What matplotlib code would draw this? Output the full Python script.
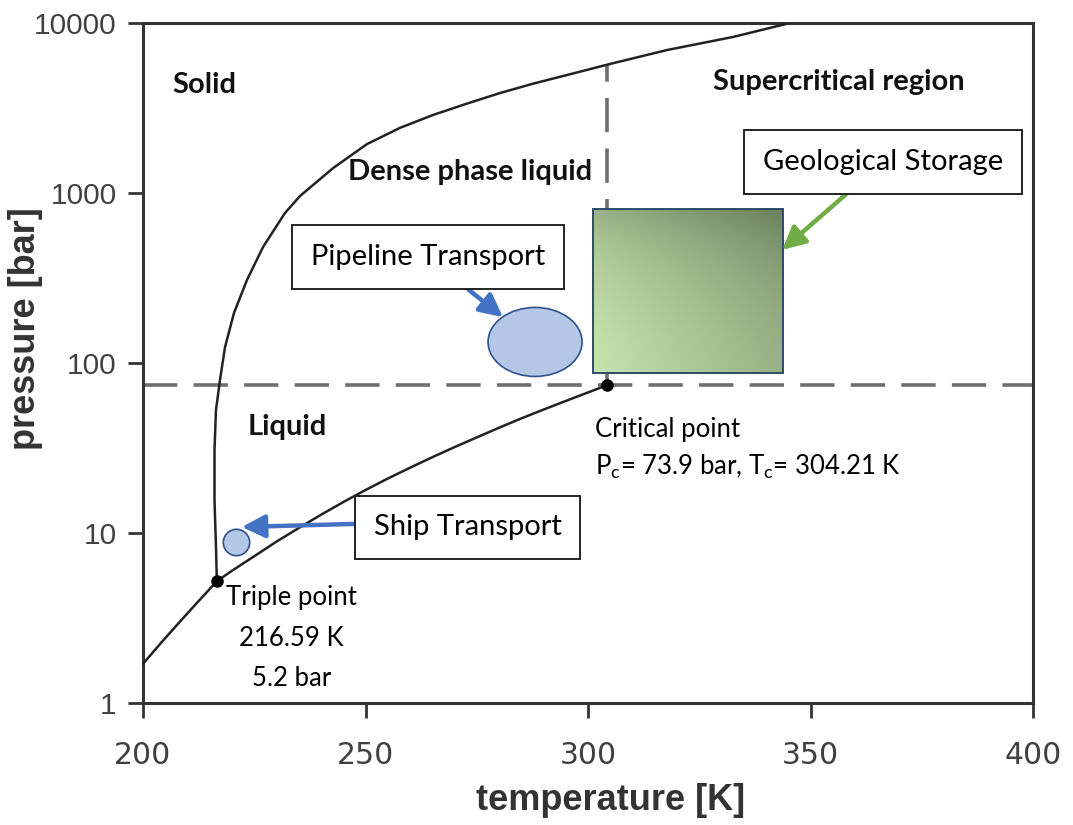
import matplotlib.pyplot as plt
import numpy as np
from matplotlib.patches import Ellipse, Rectangle
from matplotlib.transforms import ScaledTranslation

# CO2 phase diagram
melt_T = [216.59, 216.40, 216.07, 216.07, 216.40, 217.30, 218.43, 220.45, 223.37, 226.97,
          231.91, 235.28, 242.70, 250.34, 257.8, 265.17, 272.7, 280.22, 287.7, 295.28,
          304.94, 317.75, 332.58, 345.39]
melt_P = [5.2, 8.27, 15.6, 30.8, 52.9, 79.4, 124, 197, 308, 481,
          763, 960, 1400, 1940, 2420, 2877, 3350, 3873, 4400, 4943,
          5741, 6934, 8275, 10000]

vap_T = [200, 204, 208, 212, 216.59, 220, 225, 230, 235, 240, 245, 250, 255, 260,
         265, 270, 275, 280, 285, 290, 295, 300, 304.21]
vap_P = [1.7, 2.25, 2.95, 3.85, 5.2, 6.0, 7.3, 8.9, 10.7, 12.8, 15.2, 17.9, 20.9, 24.2,
         27.9, 32.0, 36.5, 41.6, 47.2, 53.2, 59.8, 67.1, 73.9]

triple = (216.59, 5.2)
critical = (304.21, 73.9)

x_ticks = [200, 250, 300, 350, 400]
y_ticks = [1, 10, 100, 1000, 10000]

regions = {"Solid": (206.5, 4300), "Liquid": (223.6, 42),
           "Dense phase liquid": (246.1, 1330), "Supercritical region": (328.1, 4500)}

pipeline_center = (288.1, 133)
ship_center = (220.9, 8.85)
storage_T = (301.1, 343.8)
storage_P = (87.3, 805)

label_font = "Lato"

fig = plt.figure(figsize=(10.73, 8.25), dpi=100)
ax = fig.add_axes([143 / 1073, 1 - 703 / 825, 890 / 1073, 680 / 825])
ax.set_yscale("log")
ax.set_xlim(200, 400)
ax.set_ylim(1, 10000)

ax.plot(melt_T, melt_P, color="#222222", lw=1.8, zorder=3)
ax.plot(vap_T, vap_P, color="#222222", lw=1.8, zorder=3)

# dashed guides at the critical point
ax.axhline(critical[1], color="#6e6e6e", lw=2.6, dashes=(9.5, 4.5), zorder=2)
top_P = np.interp(critical[0], melt_T[8:], melt_P[8:])
ax.plot([critical[0], critical[0]], [critical[1], top_P], color="#6e6e6e",
        lw=2.6, dashes=(9.5, 4.5), zorder=2)

ax.plot(*triple, "o", color="black", ms=8, zorder=6)
ax.plot(*critical, "o", color="black", ms=8, zorder=6)

# geological storage: gradient square
grad = np.linspace(0, 1, 200)
gx, gy = np.meshgrid(grad, grad)
g = (gx + (1 - gy)) / 2
c0 = np.array([0.78, 0.89, 0.68])
c1 = np.array([0.41, 0.50, 0.36])
img = c0 + (c1 - c0) * g[..., None]
im = ax.imshow(img, extent=[storage_T[0], storage_T[1], storage_P[0], storage_P[1]],
               aspect="auto", zorder=4, interpolation="bilinear")
rect = Rectangle((storage_T[0], storage_P[0]), storage_T[1] - storage_T[0],
                 storage_P[1] - storage_P[0], fill=False, ec="#2e4a6b", lw=1.4, zorder=5)
ax.add_patch(rect)
im.set_clip_path(rect)
ax.set_xlim(200, 400)
ax.set_ylim(1, 10000)

# pipeline ellipse (size in inches)
ell = Ellipse((0, 0), 0.94, 0.69, fc="#b4c7e7", ec="#2f528f", lw=1.2, zorder=5,
              transform=fig.dpi_scale_trans + ScaledTranslation(*pipeline_center, ax.transData))
ax.add_patch(ell)
ax.plot(*ship_center, "o", ms=19, mfc="#b4c7e7", mec="#2f528f", mew=1.2, zorder=5)

for name, (t, p) in regions.items():
    ax.text(t, p, name, fontsize=21, fontweight="bold", family=label_font,
            ha="left", va="center", color="#111111", zorder=7)

box = dict(boxstyle="square,pad=0.64", fc="white", ec="#222222", lw=1.4)
arrow = dict(arrowstyle="-|>,head_length=1.4,head_width=0.7", mutation_scale=10,
             lw=3.2, shrinkA=0, shrinkB=0)
ax.annotate("Pipeline Transport", xy=(280.9, 186), xytext=(264.0, 420),
            fontsize=21, family=label_font, ha="center", va="center", bbox=box,
            arrowprops=dict(arrow, color="#4472c4"), zorder=8)
ax.annotate("Geological Storage", xy=(343.6, 462), xytext=(366.3, 1520),
            fontsize=21, family=label_font, ha="center", va="center", bbox=box,
            arrowprops=dict(arrow, color="#70ad47"), zorder=8)
ax.annotate("Ship Transport", xy=(222.2, 10.85), xytext=(273.0, 10.8),
            fontsize=21, family=label_font, ha="center", va="center", bbox=box,
            arrowprops=dict(arrow, color="#4472c4", relpos=(0, 0.65)), zorder=8)

ax.text(301.6, 40.4, "Critical point", fontsize=18.5, family=label_font,
        ha="left", va="center", zorder=7)
ax.text(301.6, 24.4, r"P$_\mathregular{c}$= 73.9 bar, T$_\mathregular{c}$= 304.21 K",
        fontsize=18.5, family=label_font, ha="left", va="center", zorder=7)
for txt, p in [("Triple point", 4.15), ("216.59 K", 2.41), ("5.2 bar", 1.40)]:
    ax.text(233.3, p, txt, fontsize=18.5, family=label_font, ha="center", va="center", zorder=7)

ax.set_xticks(x_ticks)
ax.set_xticklabels([str(v) for v in x_ticks])
ax.set_yticks(y_ticks)
ax.set_yticklabels([str(v) for v in y_ticks])
ax.minorticks_off()
ax.tick_params(length=11, width=2, color="#333333", labelsize=21.5, labelcolor="#404040")
ax.tick_params(axis="y", pad=8)
ax.tick_params(axis="x", pad=16)
for lab in ax.get_xticklabels():
    lab.set_family("Liberation Sans Narrow")
for lab in ax.get_yticklabels():
    lab.set_family("Liberation Sans")
for s in ax.spines.values():
    s.set_linewidth(2.2)
    s.set_color("#333333")

ax.set_xlabel("temperature [K]", fontsize=26, fontweight="bold", family="Liberation Sans",
              color="#333333")
ax.set_ylabel("pressure [bar]", fontsize=26, fontweight="bold", family="Liberation Sans",
              color="#333333")
ax.xaxis.set_label_coords(0.525, -0.118)
ax.yaxis.set_label_coords(-0.112, 0.55)

fig.savefig("out.png", dpi=100)
